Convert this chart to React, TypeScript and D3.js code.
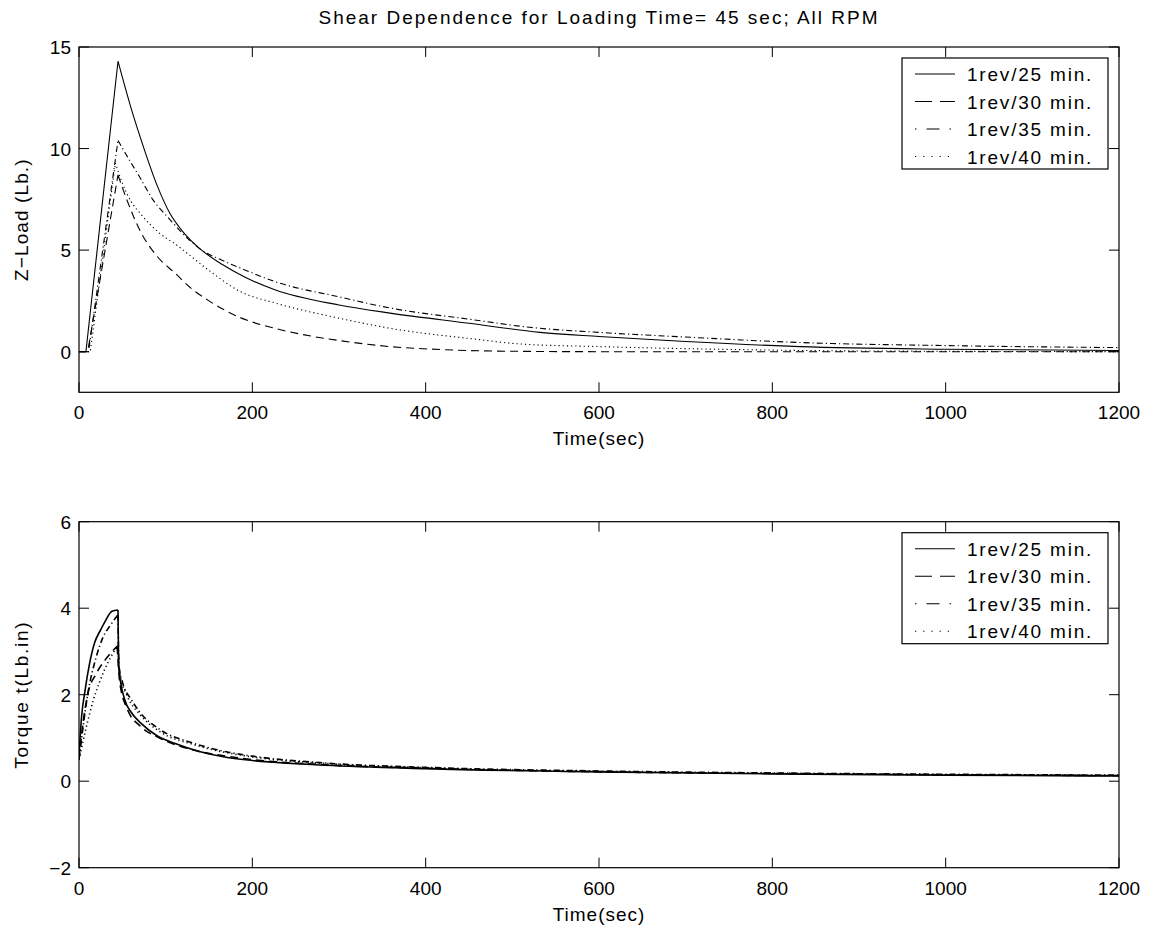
import React from 'react';
import * as d3 from 'd3';

// ---------- data ----------
const legendLabels = ['1rev/25 min.', '1rev/30 min.', '1rev/35 min.', '1rev/40 min.'];
const timeTicks = [0, 200, 400, 600, 800, 1000, 1200];
const zTicks = [0, 5, 10, 15];
const torqueTicks = [-2, 0, 2, 4, 6];

// Z-Load (Lb.) : [time, value]
const zload25: [number, number][] = [[0,0],[8,0],[45,14.3],[60,12.0],[75,10.0],[90,8.2],[105,6.8],[120,5.9],[140,5.05],[165,4.3],[190,3.7],[226,3.05],[300,2.3],[359,1.9],[450,1.4],[532,0.95],[600,0.75],[700,0.5],[832,0.25],[1000,0.12],[1200,0.06]];
const zload30: [number, number][] = [[0,0],[10,0],[45,8.7],[55,7.5],[72,5.83],[90,4.7],[111,3.86],[130,3.1],[150,2.5],[186,1.68],[226,1.15],[270,0.75],[300,0.55],[359,0.25],[420,0.1],[500,0.02],[600,0],[800,0],[1000,0],[1200,0]];
const zload35: [number, number][] = [[0,0],[11,0],[45,10.4],[60,9.3],[70,8.6],[85,7.5],[105,6.5],[120,5.8],[140,5.05],[165,4.5],[190,4.05],[226,3.45],[300,2.7],[359,2.15],[450,1.6],[520,1.2],[600,0.95],[700,0.72],[832,0.45],[1000,0.3],[1200,0.2]];
const zload40: [number, number][] = [[0,0],[13,0],[42,9.3],[50,8.3],[60,7.4],[72,6.74],[93,5.83],[111,5.3],[150,4.0],[186,2.96],[226,2.4],[300,1.65],[359,1.15],[450,0.65],[509,0.38],[600,0.25],[700,0.15],[855,0.05],[1000,0.02],[1200,0]];

// Torque t (Lb.in) : [time, value]
const torque25: [number, number][] = [[0,0.6],[3,1.5],[7,2.1],[12,2.7],[18,3.2],[25,3.5],[30,3.69],[38,3.93],[45,3.96],[46,2.6],[53,1.87],[60,1.6],[72,1.33],[90,1.05],[111,0.87],[140,0.68],[168,0.56],[200,0.48],[284,0.37],[400,0.29],[625,0.21],[800,0.17],[1000,0.14],[1200,0.12]];
const torque30: [number, number][] = [[0,0.5],[5,1.4],[10,2.0],[20,2.49],[30,2.8],[36,2.95],[44,3.12],[47,2.3],[55,1.7],[72,1.25],[93,1.0],[132,0.72],[170,0.58],[200,0.5],[284,0.38],[400,0.3],[625,0.21],[800,0.18],[1000,0.15],[1200,0.13]];
const torque35: [number, number][] = [[0,0.5],[5,1.3],[10,2.0],[20,2.88],[28,3.34],[36,3.6],[45,3.85],[46,2.7],[50,2.3],[60,1.9],[70,1.6],[93,1.2],[132,0.88],[170,0.68],[200,0.58],[284,0.42],[400,0.32],[625,0.23],[800,0.19],[1000,0.16],[1200,0.14]];
const torque40: [number, number][] = [[0,0.5],[16.5,1.87],[30,2.6],[45,3.15],[47,2.5],[55,2.0],[70,1.55],[93,1.15],[132,0.85],[170,0.66],[200,0.56],[284,0.41],[400,0.31],[625,0.22],[800,0.18],[1000,0.15],[1200,0.13]];

// ---------- styles ----------
const FONT = '"Liberation Sans", Arial, Helvetica, sans-serif';
const FS = 19;
const plotDash = ['none', '8,5', '6,3,1.2,3', '1.2,3'];
const legendDash = ['none', '17,8', '1.5,10,13,10', '1.2,7'];

const W = 1154, H = 933;
const L = 79, R = 1119;

type Series = [number, number][];

function Panel({ top, bottom, yDomain, yTicks, series, ylabel, riseCurve, id, lw, ylabelSpacing }: {
  top: number; bottom: number; yDomain: [number, number]; yTicks: number[];
  series: Series[]; ylabel: string; riseCurve: d3.CurveFactory; id: string; lw: number; ylabelSpacing: number;
}) {
  const x = d3.scaleLinear().domain([0, 1200]).range([L, R]);
  const y = d3.scaleLinear().domain(yDomain).range([bottom, top]);
  const lineRise = d3.line<[number, number]>().x(d => x(d[0])).y(d => y(d[1])).curve(riseCurve);
  const lineDecay = d3.line<[number, number]>().x(d => x(d[0])).y(d => y(d[1])).curve(d3.curveMonotoneX);
  const tl = 10;
  const legX = 902, legY = top + 11, legW = 206, legH = 111;
  return (
    <g>
      <defs>
        <clipPath id={id}><rect x={L} y={top} width={R - L} height={bottom - top} /></clipPath>
      </defs>
      <g clipPath={`url(#${id})`}>
        {series.map((s, i) => {
          let pk = 0;
          s.forEach((p, j) => { if (p[1] > s[pk][1]) pk = j; });
          const d = (lineRise(s.slice(0, pk + 1)) || '') + (lineDecay(s.slice(pk)) || '');
          return <path key={i} d={d} fill="none" stroke="#000" strokeWidth={lw} strokeDasharray={plotDash[i]} />;
        })}
      </g>
      {/* ticks */}
      {timeTicks.map(t => (
        <g key={'xt' + t}>
          <line x1={x(t)} x2={x(t)} y1={bottom} y2={bottom - tl} stroke="#000" />
          <line x1={x(t)} x2={x(t)} y1={top} y2={top + tl} stroke="#000" />
          <text x={x(t)} y={bottom + 27} textAnchor="middle" fontFamily={FONT} fontSize={FS}>{t}</text>
        </g>
      ))}
      {yTicks.map(v => (
        <g key={'yt' + v}>
          <line x1={L} x2={L + tl} y1={y(v)} y2={y(v)} stroke="#000" />
          <line x1={R} x2={R - tl} y1={y(v)} y2={y(v)} stroke="#000" />
          <text x={L - 8} y={y(v) + 7} textAnchor="end" fontFamily={FONT} fontSize={FS}>{v < 0 ? '\u2212' + Math.abs(v) : v}</text>
        </g>
      ))}
      <rect x={L} y={top} width={R - L} height={bottom - top} fill="none" stroke="#000" strokeWidth={1.2} />
      <text x={(L + R) / 2} y={bottom + 53} textAnchor="middle" fontFamily={FONT} fontSize={FS} letterSpacing={1}>Time(sec)</text>
      <text transform={`translate(28,${(top + bottom) / 2}) rotate(-90)`} textAnchor="middle" fontFamily={FONT} fontSize={FS} letterSpacing={ylabelSpacing}>{ylabel}</text>
      {/* legend */}
      <rect x={legX} y={legY} width={legW} height={legH} fill="#fff" stroke="#000" strokeWidth={1.2} />
      {legendLabels.map((lab, i) => {
        const cy = legY + 16 + i * 27.5;
        return (
          <g key={lab}>
            <line x1={915} x2={955} y1={cy} y2={cy} stroke="#000" strokeWidth={1.1} strokeDasharray={legendDash[i]} />
            <text x={967} y={cy + 7} fontFamily={FONT} fontSize={FS} letterSpacing={1.8}>{lab}</text>
          </g>
        );
      })}
    </g>
  );
}

export default function App() {
  return (
    <svg width={W} height={H} style={{ position: 'absolute', left: 0, top: 0, background: '#fff' }}>
      <rect width={W} height={H} fill="#fff" />
      <text x={(L + R) / 2} y={24} textAnchor="middle" fontFamily={FONT} fontSize={FS} letterSpacing={2}>Shear Dependence for Loading Time= 45 sec; All RPM</text>
      <Panel id="c1" top={47} bottom={392.3} yDomain={[-2, 15]} yTicks={zTicks} lw={1.1} ylabelSpacing={1.1}
        series={[zload25, zload30, zload35, zload40]} ylabel={'Z\u2212Load (Lb.)'} riseCurve={d3.curveLinear} />
      <Panel id="c2" top={521.7} bottom={867.7} yDomain={[-2, 6]} yTicks={torqueTicks} lw={1.6} ylabelSpacing={1.7}
        series={[torque25, torque30, torque35, torque40]} ylabel="Torque t(Lb.in)" riseCurve={d3.curveMonotoneX} />
    </svg>
  );
}
